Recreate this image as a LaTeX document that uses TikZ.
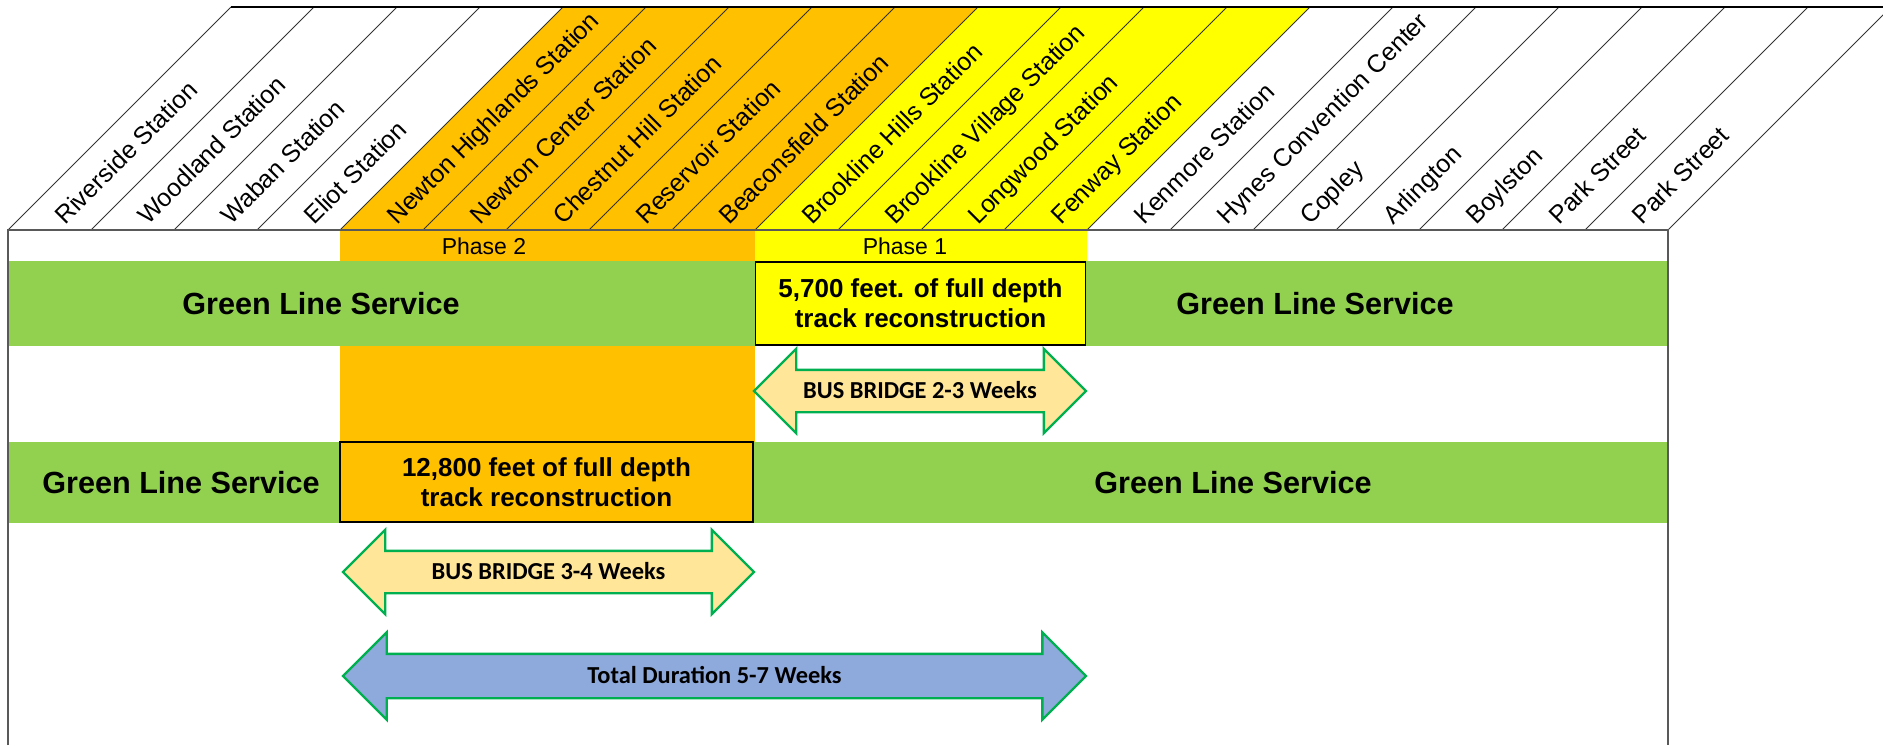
\documentclass[tikz,border=0pt]{standalone}
\usepackage{fontspec}
\setmainfont{Liberation Sans}
\newfontfamily\calibri{Carlito}
\usetikzlibrary{shapes.arrows}

\definecolor{phasetwo}{HTML}{FFC000}
\definecolor{phaseone}{HTML}{FFFF00}
\definecolor{linegreen}{HTML}{92D050}
\definecolor{busfill}{HTML}{FFE699}
\definecolor{totalfill}{HTML}{8EA9DB}
\definecolor{arrowline}{HTML}{00B050}
\definecolor{frameline}{HTML}{595959}

\begin{document}
\begin{tikzpicture}
        [x=0.5pt,y=-0.5pt,every node/.style={inner sep=0pt},
         station/.style={rotate=45,anchor=base west,font=\fontsize{12.5}{14}\selectfont},
         phaselabel/.style={font=\fontsize{11.5}{13}\selectfont},
         servicetext/.style={font=\bfseries\fontsize{15.3}{17}\selectfont},
         workbox/.style={draw=black,line width=0.9pt,align=center,
           font=\bfseries\fontsize{13}{15}\selectfont},
         busarrow/.style={double arrow,draw=arrowline,line width=1.2pt,fill=busfill,
           double arrow head extend=10.5pt,text height=13.9pt,text depth=6.1pt,
           font=\calibri\bfseries\fontsize{12.2}{14}\selectfont}]
        \useasboundingbox (0,0) rectangle (1883,745);

        \fill[phasetwo] (340,230) -- (563,7) -- (978,7) -- (755,230) -- cycle;
        \fill[phaseone] (755,230) -- (978,7) -- (1310,7) -- (1087,230) -- cycle;
        \fill[phasetwo] (340,230) rectangle (755,442);
        \fill[phaseone] (755,230) rectangle (1087,261);
        \fill[linegreen] (8,261) rectangle (1668,346);
        \fill[linegreen] (8,442) rectangle (1668,523);

        \foreach \name [count=\i from 0] in {Riverside Station, Woodland Station,
            Waban Station, Eliot Station, Newton Highlands Station,
            Newton Center Station, Chestnut Hill Station, Reservoir Station,
            Beaconsfield Station, Brookline Hills Station, Brookline Village Station,
            Longwood Station, Fenway Station, Kenmore Station,
            Hynes Convention Center, Copley, Arlington, Boylston, Park Street,
            Park Street} {
            \draw[black!80,line width=0.5pt] ({8+83*\i},230) -- ++(223,-223);
            \node[station] (s\i) at ({65+83*\i},226) {\name};
        }
        \draw[black!80,line width=0.5pt] (1668,230) -- ++(223,-223);
        \draw[black,line width=1pt] (231,7) -- (1883,7);
        \draw[frameline,line width=0.9pt] (8,745) -- (8,230) -- (1668,230) -- (1668,745);

        \node[phaselabel] (ph2) at (484,246) {Phase 2};
        \node[phaselabel] (ph1) at (905,246) {Phase 1};

        \node[servicetext] (gl1) at (321,304) {Green Line Service};
        \node[servicetext] (gl2) at (1315,304) {Green Line Service};
        \node[servicetext] (gl3) at (181,483) {Green Line Service};
        \node[servicetext] (gl4) at (1233,483) {Green Line Service};

        \node[workbox,fill=phaseone,minimum width=165pt,minimum height=41.5pt]
            (work1) at (920.5,303.5) {5,700 feet. of full depth\\track reconstruction};
        \node[workbox,fill=phasetwo,minimum width=206.5pt,minimum height=40pt]
            (work2) at (546.5,482) {12,800 feet of full depth\\track reconstruction};

        \node[busarrow,minimum height=166pt] (bus1) at (920,391) {BUS BRIDGE 2-3 Weeks};
        \node[busarrow,minimum height=205.5pt] (bus2) at (548.5,572) {BUS BRIDGE 3-4 Weeks};
        \node[busarrow,fill=totalfill,text height=14.4pt,text depth=6.6pt,
            double arrow head extend=10.75pt,minimum height=371.5pt]
            (total) at (714.5,676) {Total Duration 5-7 Weeks};
    \end{tikzpicture}
\end{document}
